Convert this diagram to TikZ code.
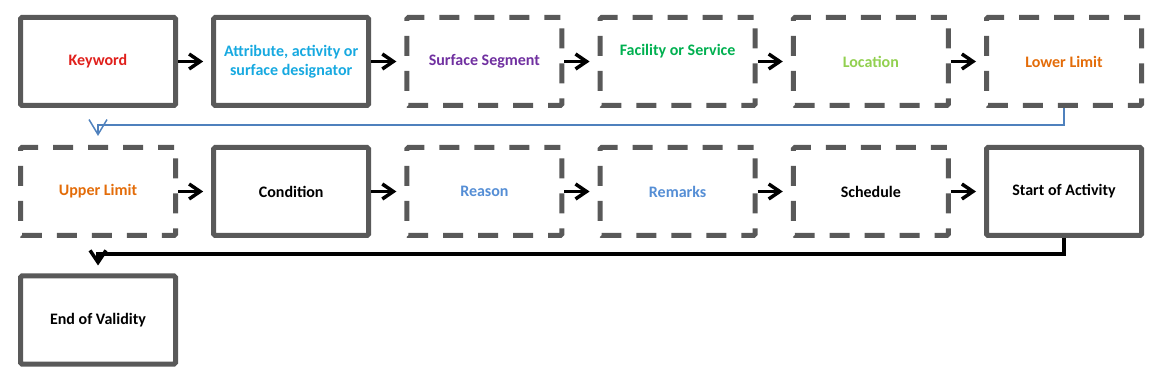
\documentclass[tikz,border=0pt]{standalone}
\usepackage{fontspec}
\setmainfont{Carlito}
\usetikzlibrary{arrows.meta}
\definecolor{boxgray}{HTML}{595959}
\definecolor{kwred}{HTML}{E0201C}
\definecolor{attrblue}{HTML}{17A9E0}
\definecolor{segpurple}{HTML}{7030A0}
\definecolor{facgreen}{HTML}{00B050}
\definecolor{locgreen}{HTML}{92D050}
\definecolor{limorange}{HTML}{E36C09}
\definecolor{reasonblue}{HTML}{558ED5}
\definecolor{linkblue}{HTML}{4F81BD}
\begin{document}
\begin{tikzpicture}[x=1pt,y=1pt,
  box/.style={draw=boxgray,line width=5pt,minimum width=155pt,minimum height=88pt,
    inner sep=0pt,rounded corners=1.5pt,align=center,
    font=\fontsize{16}{19}\selectfont\bfseries},
  dbox/.style={box,dash pattern=on 20pt off 15pt,dash phase=4pt},
  arr/.style={draw=black,line width=3.5pt,-{Straight Barb[length=11pt,width=15pt]}},
  blink/.style={draw=linkblue,line width=1.5pt,-{Straight Barb[length=15pt,width=18pt]}},
  klink/.style={draw=black,line width=3.5pt,-{Straight Barb[length=12pt,width=16pt]}}]
\useasboundingbox (0,0) rectangle (1162,-387);
% row 1
\node[box,text=kwred] (kw) at (98,-61.5) {Keyword};
\node[box,text=attrblue] (attr) at (291.2,-61.5) {Attribute, activity or\\surface designator};
\node[dbox,text=segpurple] (seg) at (484.4,-61.5) {Surface Segment};
\node[dbox,label={[yshift=10pt,text=facgreen,font=\fontsize{16}{19}\selectfont\bfseries]center:Facility or Service}] (fac) at (677.6,-61.5) {};
\node[dbox,text=locgreen] (loc) at (870.8,-61.5) {Location};
\node[dbox,text=limorange] (low) at (1064,-61.5) {Lower Limit};
% row 2
\node[dbox,text=limorange] (up) at (98,-191.5) {Upper Limit};
\node[box] (cond) at (291.2,-191.5) {Condition};
\node[dbox,text=reasonblue] (rea) at (484.4,-191.5) {Reason};
\node[dbox,text=reasonblue] (rem) at (677.6,-191.5) {Remarks};
\node[dbox] (sch) at (870.8,-191.5) {Schedule};
\node[box] (start) at (1064,-191.5) {Start of Activity};
% row 3
\node[box] (end) at (98,-320) {End of Validity};
% arrows
\draw[arr] (kw.east) -- ([xshift=-8pt]attr.west);
\draw[arr] (attr.east) -- ([xshift=-8pt]seg.west);
\draw[arr] (seg.east) -- ([xshift=-8pt]fac.west);
\draw[arr] (fac.east) -- ([xshift=-8pt]loc.west);
\draw[arr] (loc.east) -- ([xshift=-8pt]low.west);
\draw[arr] (up.east) -- ([xshift=-8pt]cond.west);
\draw[arr] (cond.east) -- ([xshift=-8pt]rea.west);
\draw[arr] (rea.east) -- ([xshift=-8pt]rem.west);
\draw[arr] (rem.east) -- ([xshift=-8pt]sch.west);
\draw[arr] (sch.east) -- ([xshift=-8pt]start.west);
\draw[blink] (low.south) -- ++(0,-17) -| ([yshift=9pt]up.north);
\draw[klink] (start.south) -- ++(0,-16) -| ([yshift=8pt]end.north);
\end{tikzpicture}
\end{document}
